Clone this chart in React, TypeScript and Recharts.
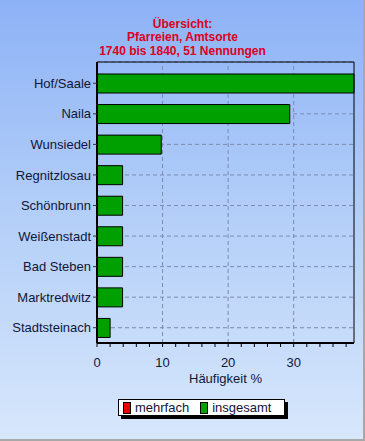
import React from "react";
import {
  BarChart,
  Bar,
  XAxis,
  YAxis,
  CartesianGrid,
  ReferenceLine,
} from "recharts";

// data
const places = [
  "Hof/Saale",
  "Naila",
  "Wunsiedel",
  "Regnitzlosau",
  "Schönbrunn",
  "Weißenstadt",
  "Bad Steben",
  "Marktredwitz",
  "Stadtsteinach",
];
const insgesamt = [39.2, 29.4, 9.8, 3.9, 3.9, 3.9, 3.9, 3.9, 2.0];

const titleLines = ["Übersicht:", "Pfarreien, Amtsorte", "1740 bis 1840, 51 Nennungen"];
const xMax = 39.2;
const minorTicks = [0, 2, 4, 6, 8, 10, 12, 14, 16, 18, 20, 22, 24, 26, 28, 30, 32, 34, 36, 38];
const majorTicks = [10, 20, 30];
const xLabel = "Häufigkeit %";
const legendItems = [
  { name: "mehrfach", color: "#e80000" },
  { name: "insgesamt", color: "#00a000" },
];

const chartData = places.map((place, i) => ({ place, insgesamt: insgesamt[i] }));

const FONT = "Arial, 'Liberation Sans', sans-serif";
const GRID = "#7a8cb2";

interface TickProps {
  x?: number;
  y?: number;
  payload?: { value: number };
}

function XTick({ x, y, payload }: TickProps) {
  if (!payload || payload.value % 10 !== 0) return null;
  return (
    <text x={x} y={y} dy={18} textAnchor="middle" fill="#10163a" fontSize={13} fontFamily={FONT}>
      {payload.value}
    </text>
  );
}

export default function App() {
  return (
    <div
      style={{
        position: "relative",
        width: 365,
        height: 441,
        boxSizing: "border-box",
        background: "linear-gradient(to bottom, #8db2f6 0%, #b4cff8 50%, #d7e7fc 100%)",
        borderRight: "2px solid #a8a8a8",
        borderBottom: "2px solid #a8a8a8",
        fontFamily: FONT,
      }}
    >
      <style>{"body{margin:0}"}</style>
      <div
        style={{
          position: "absolute",
          top: 18,
          left: 0,
          width: 365,
          textAlign: "center",
          color: "#dd0020",
          fontWeight: "bold",
          fontSize: 12,
          lineHeight: "13.4px",
        }}
      >
        {titleLines.map((t) => (
          <div key={t}>{t}</div>
        ))}
      </div>
      <div style={{ position: "absolute", top: 0, left: 0 }}>
        <BarChart
          width={365}
          height={441}
          data={chartData}
          layout="vertical"
          margin={{ top: 61, right: 10, left: 0, bottom: 53 }}
        >
          <CartesianGrid stroke={GRID} strokeDasharray="4 3" vertical={false} />
          {majorTicks.map((v) => (
            <ReferenceLine
              key={v}
              x={v}
              stroke={GRID}
              strokeDasharray="4 3"
              zIndex={0}
            />
          ))}
          <XAxis
            xAxisId="g"
            type="number"
            orientation="top"
            domain={[0, xMax]}
            ticks={majorTicks}
            height={1}
            tick={false}
            tickLine={false}
            axisLine={{ stroke: "#000" }}
          />
          <XAxis
            type="number"
            domain={[0, xMax]}
            ticks={minorTicks}
            interval={0}
            height={45}
            tickSize={4}
            tickMargin={2}
            tick={<XTick />}
            tickLine={{ stroke: "#000" }}
            axisLine={{ stroke: "#000", strokeWidth: 2 }}
            label={{
              value: xLabel,
              position: "insideBottom",
              offset: 5,
              fill: "#10163a",
              fontSize: 13,
              fontFamily: FONT,
            }}
          />
          <YAxis
            type="category"
            dataKey="place"
            width={97}
            padding={{ top: 6, bottom: 0 }}
            tickSize={4}
            tickMargin={2}
            interval={0}
            tick={{ fill: "#10163a", fontSize: 13, fontFamily: FONT }}
            tickLine={{ stroke: "#333" }}
            axisLine={{ stroke: "#000", strokeWidth: 2 }}
          />
          <YAxis
            yAxisId="r"
            type="category"
            dataKey="place"
            orientation="right"
            width={1}
            padding={{ top: 6, bottom: 0 }}
            tick={false}
            tickLine={false}
            axisLine={{ stroke: "#000" }}
          />
          <Bar
            dataKey="insgesamt"
            fill="#00a000"
            stroke="#000"
            strokeWidth={1}
            barSize={19}
            isAnimationActive={false}
          />
        </BarChart>
      </div>
      <div
        style={{
          position: "absolute",
          left: 118,
          top: 399,
          width: 167,
          height: 17,
          boxSizing: "border-box",
          background: "#fff",
          border: "1px solid #000",
          boxShadow: "3px 3px 0 #000",
          display: "flex",
          alignItems: "center",
          fontSize: 13,
          color: "#10163a",
        }}
      >
        {legendItems.map((it, i) => (
          <div
            key={it.name}
            style={{ display: "flex", alignItems: "center", marginLeft: i === 0 ? 4 : 11 }}
          >
            <span
              style={{
                display: "inline-block",
                width: 8,
                height: 12,
                boxSizing: "border-box",
                background: it.color,
                border: "1px solid #000",
                marginRight: 4,
              }}
            />
            <span>{it.name}</span>
          </div>
        ))}
      </div>
    </div>
  );
}
